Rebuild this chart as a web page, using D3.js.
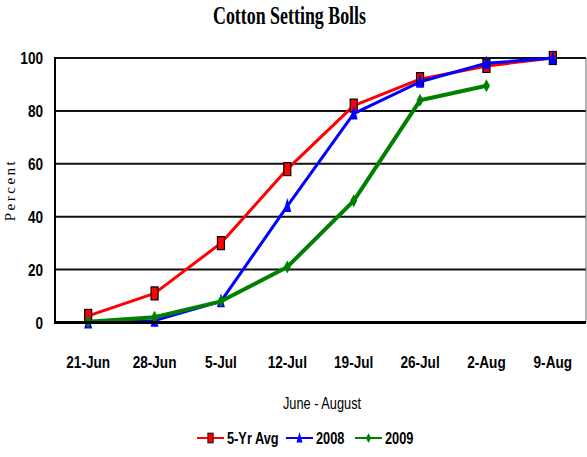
<!DOCTYPE html>
<head>
  <meta charset="utf-8">
  <script src="https://d3js.org/d3.v7.min.js"></script>
  <style>
    body { margin: 0; background: #fff; }
    .narrow { font-family: "Liberation Sans", Arial, sans-serif; }
  </style>
</head>
<body>
<div id="my_dataviz"></div>
<script>

// data
var dates = ["21-Jun", "28-Jun", "5-Jul", "12-Jul", "19-Jul", "26-Jul", "2-Aug", "9-Aug"];
var avg5 = [2.5, 11, 30, 58, 82, 92, 97, 100];
var y2008 = [0, 0.7, 8, 44, 79, 91, 98, 100];
var y2009 = [0.3, 2, 8, 21, 46, 84, 89.5];
var yTicks = [0, 20, 40, 60, 80, 100];

var W = 587, H = 457;
var plot = {left: 55, right: 586, top: 58, bottom: 322.5};
var squeeze = 0.8; // no Arial Narrow here, so squash Liberation Sans

var svg = d3.select("#my_dataviz")
  .append("svg")
    .attr("width", W)
    .attr("height", H);

var x = d3.scalePoint()
  .domain(dates)
  .range([plot.left, plot.right])
  .padding(0.5);

var y = d3.scaleLinear()
  .domain([0, 100])
  .range([plot.bottom, plot.top]);

// condensed text helper
function narrowText(px, py, str, size, bold, anchor) {
  return svg.append("text")
    .attr("class", "narrow")
    .attr("transform", "translate(" + px + "," + py + ") scale(" + squeeze + ",1)")
    .attr("text-anchor", anchor || "start")
    .style("font-weight", bold ? "bold" : "normal")
    .style("font-size", size + "px")
    .text(str);
}

// title
svg.append("text")
  .attr("x", 213).attr("y", 24)
  .attr("textLength", 153)
  .attr("lengthAdjust", "spacingAndGlyphs")
  .style("font-family", "Liberation Serif, Times New Roman, serif")
  .style("font-weight", "bold")
  .style("font-size", "25px")
  .text("Cotton Setting Bolls");

// gridlines
svg.selectAll(".grid")
  .data(yTicks.filter(d => d > 0))
  .enter().append("line")
    .attr("x1", plot.left).attr("x2", plot.right)
    .attr("y1", d => y(d)).attr("y2", d => y(d))
    .attr("stroke", "#111")
    .attr("stroke-width", 2);

// right border
svg.append("line")
  .attr("x1", plot.right).attr("x2", plot.right)
  .attr("y1", plot.top).attr("y2", plot.bottom)
  .attr("stroke", "#666").attr("stroke-width", 1);

// left axis
svg.append("line")
  .attr("x1", plot.left).attr("x2", plot.left)
  .attr("y1", plot.top - 1).attr("y2", plot.bottom)
  .attr("stroke", "#000").attr("stroke-width", 2);

// y tick labels
yTicks.forEach(function(t) {
  narrowText(43, y(t) + 6, t, 17, true, "end");
});

// x tick labels
dates.forEach(function(d) {
  narrowText(x(d), 368, d, 17, true, "middle");
});

// axis titles
narrowText(322, 409, "June - August", 16, false, "middle");

svg.append("text")
  .attr("transform", "translate(15,190) rotate(-90)")
  .attr("text-anchor", "middle")
  .style("font-family", "Liberation Serif, Times New Roman, serif")
  .style("font-size", "15px")
  .style("letter-spacing", "2.5px")
  .text("Percent");

// marker shapes
function marker(g, kind, color) {
  if (kind === "square") {
    g.append("rect")
      .attr("x", -3.5).attr("y", -6.5)
      .attr("width", 7).attr("height", 13)
      .attr("fill", color).attr("stroke", "#000").attr("stroke-width", 1.2);
  } else if (kind === "triangle") {
    g.append("path")
      .attr("d", "M0,-8L4,6L-4,6Z")
      .attr("fill", color);
  } else {
    g.append("path")
      .attr("d", "M0,-6.5L3.5,0L0,6.5L-3.5,0Z")
      .attr("fill", color);
  }
}

var series = [
  {name: "5-Yr Avg", values: avg5, color: "#ff0000", kind: "square", width: 3},
  {name: "2008", values: y2008, color: "#0000ff", kind: "triangle", width: 3},
  {name: "2009", values: y2009, color: "#008000", kind: "diamond", width: 4}
];

var line = d3.line()
  .x((d, i) => x(dates[i]))
  .y(d => y(d));

series.forEach(function(s) {
  svg.append("path")
    .datum(s.values)
    .attr("fill", "none")
    .attr("stroke", s.color)
    .attr("stroke-width", s.width)
    .attr("stroke-linejoin", "round")
    .attr("d", line);
  s.values.forEach(function(v, i) {
    var g = svg.append("g").attr("transform", "translate(" + x(dates[i]) + "," + y(v) + ")");
    marker(g, s.kind, s.color);
  });
});

// x axis (thick baseline)
svg.append("line")
  .attr("x1", plot.left - 1).attr("x2", plot.right)
  .attr("y1", plot.bottom).attr("y2", plot.bottom)
  .attr("stroke", "#000").attr("stroke-width", 3);

// legend
var legendX = [197, 286, 355];
series.forEach(function(s, i) {
  var lg = svg.append("g").attr("transform", "translate(" + legendX[i] + ",438)");
  lg.append("line")
    .attr("x1", 0).attr("x2", 27)
    .attr("stroke", s.color).attr("stroke-width", 2);
  var m = lg.append("g").attr("transform", "translate(13.5,0) scale(0.75)");
  marker(m, s.kind, s.color);
  narrowText(legendX[i] + 30, 444, s.name, 16, true, "start");
});

</script>
</body>
</html>
